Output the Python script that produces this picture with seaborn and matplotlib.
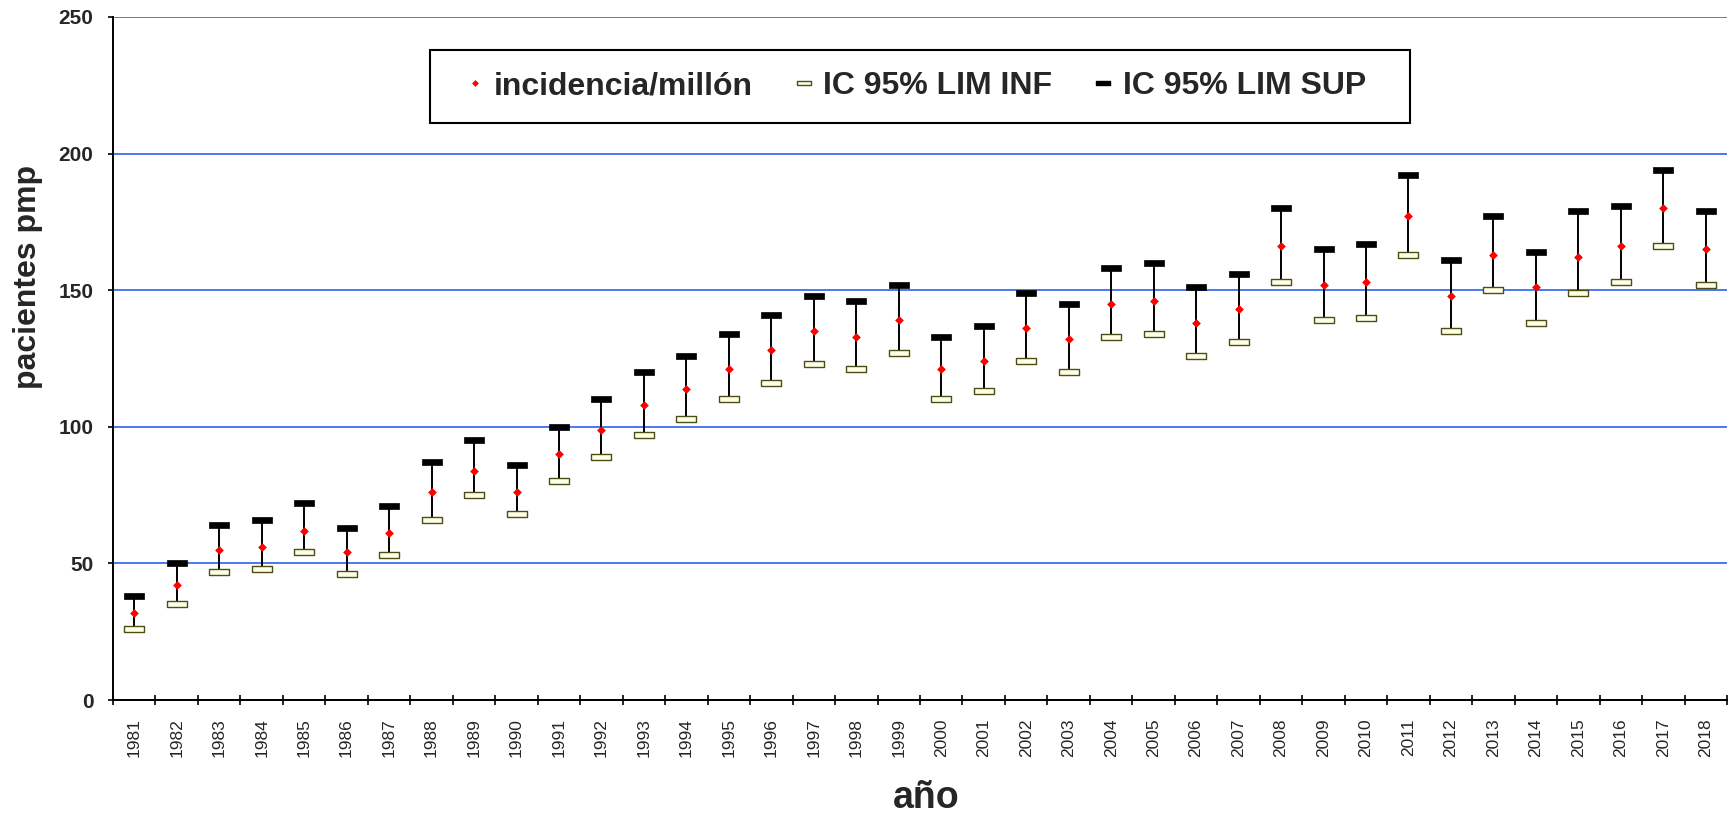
import numpy as np
import pandas as pd
import matplotlib
matplotlib.use("Agg")
import matplotlib.pyplot as plt
from matplotlib.lines import Line2D
from matplotlib.patches import Rectangle
import seaborn as sns

# Datos
anios = list(range(1981, 2019))
incidencia = [32, 42, 55, 56, 62, 54, 61, 76, 84, 76,
              90, 99, 108, 114, 121, 128, 135, 133, 139, 121,
              124, 136, 132, 145, 146, 138, 143, 166, 152, 153,
              177, 148, 163, 151, 162, 166, 180, 165]
lim_inf = [26, 35, 47, 48, 54, 46, 53, 66, 75, 68,
           80, 89, 97, 103, 110, 116, 123, 121, 127, 110,
           113, 124, 120, 133, 134, 126, 131, 153, 139, 140,
           163, 135, 150, 138, 149, 153, 166, 152]
lim_sup = [38, 50, 64, 66, 72, 63, 71, 87, 95, 86,
           100, 110, 120, 126, 134, 141, 148, 146, 152, 133,
           137, 149, 145, 158, 160, 151, 156, 180, 165, 167,
           192, 161, 177, 164, 179, 181, 194, 179]
y_ticks = [0, 50, 100, 150, 200, 250]

df = pd.DataFrame({
    "pos": np.arange(len(anios)),
    "anio": anios,
    "inc": incidencia,
    "inf": lim_inf,
    "sup": lim_sup,
})

sns.set_theme(style="white")
plt.rcParams["font.family"] = ["Liberation Sans", "DejaVu Sans"]

fig = plt.figure(figsize=(17.36, 8.16), dpi=100)
ax = fig.add_axes([113 / 1736, 1 - 700 / 816, 1614 / 1736, 683 / 816])

# marcador rectangular (4:1)
rect = [(-2, -0.5), (2, -0.5), (2, 0.5), (-2, 0.5), (-2, -0.5)]

# líneas verticales entre los límites
ax.vlines(df["pos"], df["inf"], df["sup"], color="black", lw=1.4, zorder=2)

sns.scatterplot(data=df, x="pos", y="inf", marker=rect, s=14.5 ** 2,
                color="#FFFFE6", edgecolor="#4d4d1a", linewidth=1.0,
                ax=ax, zorder=3, legend=False)
sns.scatterplot(data=df, x="pos", y="sup", marker=rect, s=14.5 ** 2,
                color="black", edgecolor="black", linewidth=0.5,
                ax=ax, zorder=3, legend=False)
sns.scatterplot(data=df, x="pos", y="inc", marker="D", s=20,
                color="red", linewidth=0, ax=ax, zorder=4, legend=False)

# ejes
ax.set_xlim(-0.5, len(anios) - 0.5)
ax.set_ylim(0, 250)
ax.set_yticks(y_ticks)
ax.set_yticklabels([str(v) for v in y_ticks], fontsize=15, fontweight="bold")
ax.tick_params(axis="y", direction="out", length=3.6, width=1.2, color="black", pad=10.5, left=True)

ax.set_xticks(df["pos"])
ax.set_xticklabels([str(a) for a in anios], rotation=90, fontsize=12.5)
ax.tick_params(axis="x", which="major", length=0, pad=13)
ax.set_xticks(np.arange(-0.5, len(anios), 1.0), minor=True)
ax.tick_params(axis="x", which="minor", direction="inout", length=7.2, width=1.2,
               color="black", bottom=True)

ax.yaxis.grid(True, color="#4a78f0", lw=1.4)
ax.xaxis.grid(False)
ax.set_axisbelow(True)
for s in ["top", "right"]:
    ax.spines[s].set_visible(False)
for s in ["left", "bottom"]:
    ax.spines[s].set_color("black")
    ax.spines[s].set_linewidth(1.4)

ax.set_xlabel("año", fontsize=27, fontweight="bold", va="center")
ax.xaxis.set_label_coords(0.5037, -0.1435)
ax.set_ylabel("pacientes pmp", fontsize=23, fontweight="bold", va="center")
ax.yaxis.set_label_coords(-0.0527, 0.619)

# leyenda
handles = [
    Line2D([], [], ls="", marker="D", color="red", markersize=3.5, markeredgewidth=0),
    Line2D([], [], ls="", marker=rect, markersize=10, markerfacecolor="#FFFFE6",
           markeredgecolor="#4d4d1a", markeredgewidth=1.0),
    Line2D([], [], ls="", marker=rect, markersize=10, markerfacecolor="black",
           markeredgecolor="black"),
]
labels = ["incidencia/millón", "IC 95% LIM INF", "IC 95% LIM SUP"]
fig.legend(handles, labels, loc="center", bbox_to_anchor=(0.5274, 0.894), ncol=3,
           frameon=False, prop={"size": 23, "weight": "bold"},
           handlelength=0.6, handletextpad=0.3, columnspacing=1.3)
fig.patches.append(Rectangle((430 / 1736, 1 - 123 / 816), 980 / 1736, 73 / 816,
                             transform=fig.transFigure, fill=True, facecolor="white",
                             edgecolor="black", lw=1.5, zorder=0))

fig.savefig("out.png", dpi=100)
